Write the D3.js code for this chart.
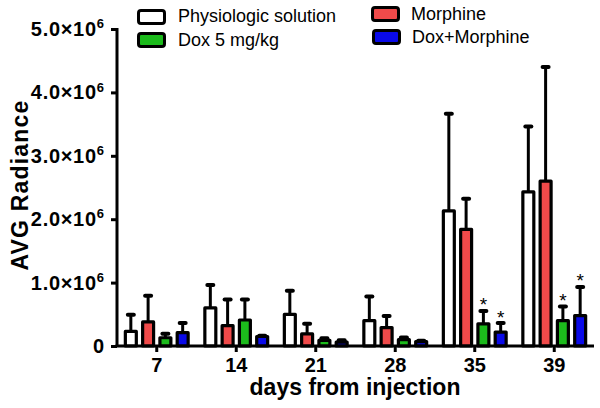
<!DOCTYPE html>
<html>
<head>
<meta charset="utf-8">
<script src="https://cdn.jsdelivr.net/npm/d3@7"></script>
<style>
  body { margin: 0; background: #fff; }
  svg { display: block; font-family: "Liberation Sans", Arial, sans-serif; }
</style>
</head>
<body>
<svg id="chart" width="600" height="408"></svg>
<script>
// ---- data ----
const categories = ["7", "14", "21", "28", "35", "39"];
const seriesNames = ["Physiologic solution", "Morphine", "Dox 5 mg/kg", "Dox+Morphine"];
const seriesColors = ["#ffffff", "#f04a4a", "#1cbb1c", "#0a0ae8"];
const physiologicMean = [0.23e6, 0.60e6, 0.50e6, 0.40e6, 2.13e6, 2.43e6];
const physiologicErr  = [0.27e6, 0.37e6, 0.38e6, 0.39e6, 1.54e6, 1.04e6];
const morphineMean    = [0.38e6, 0.32e6, 0.19e6, 0.29e6, 1.84e6, 2.60e6];
const morphineErr     = [0.42e6, 0.42e6, 0.17e6, 0.19e6, 0.49e6, 1.81e6];
const doxMean         = [0.13e6, 0.41e6, 0.09e6, 0.10e6, 0.35e6, 0.40e6];
const doxErr          = [0.07e6, 0.33e6, 0.04e6, 0.04e6, 0.21e6, 0.23e6];
const doxMorMean      = [0.21e6, 0.15e6, 0.06e6, 0.07e6, 0.22e6, 0.48e6];
const doxMorErr       = [0.16e6, 0.02e6, 0.04e6, 0.02e6, 0.15e6, 0.46e6];
// significance markers: [category, series]
const significant = [["35", "Dox 5 mg/kg"], ["35", "Dox+Morphine"], ["39", "Dox 5 mg/kg"], ["39", "Dox+Morphine"]];
const yTickValues = [0, 1e6, 2e6, 3e6, 4e6, 5e6];
const yTickMantissa = ["0", "1.0", "2.0", "3.0", "4.0", "5.0"];

const means = [physiologicMean, morphineMean, doxMean, doxMorMean];
const errs  = [physiologicErr, morphineErr, doxErr, doxMorErr];

const svg = d3.select("#chart");
const plotLeft = 117, plotRight = 594, plotTop = 29, plotBottom = 346;

const x = d3.scaleBand().domain(categories).range([plotLeft, plotRight]).padding(0);
const groupW = 66;
const x1 = d3.scaleBand().domain(seriesNames).range([-groupW / 2, groupW / 2]).paddingInner(0.18).paddingOuter(0);
const y = d3.scaleLinear().domain([0, 5e6]).range([plotBottom, plotTop]);

const rows = [];
seriesNames.forEach((s, si) => {
  categories.forEach((c, ci) => {
    rows.push({ s, si, c, v: means[si][ci], e: errs[si][ci] });
  });
});

const sw = 3.2;
const cx = d => x(d.c) + x.bandwidth() / 2 + x1(d.s) + x1.bandwidth() / 2;
const g = svg.append("g");

// error bars
const eb = g.selectAll(".err").data(rows).join("g").attr("class", "err");
eb.append("line")
  .attr("x1", cx).attr("x2", cx)
  .attr("y1", d => y(d.v))
  .attr("y2", d => y(d.v + d.e))
  .attr("stroke", "#000").attr("stroke-width", 3);
eb.append("line")
  .attr("x1", d => cx(d) - 3)
  .attr("x2", d => cx(d) + 3)
  .attr("y1", d => y(d.v + d.e) + 0.5)
  .attr("y2", d => y(d.v + d.e) + 0.5)
  .attr("stroke", "#000").attr("stroke-width", 4).attr("stroke-linecap", "round");

// bars
g.selectAll(".bar").data(rows).join("rect").attr("class", "bar")
  .attr("x", d => x(d.c) + x.bandwidth() / 2 + x1(d.s) + sw / 2)
  .attr("width", x1.bandwidth() - sw)
  .attr("y", d => y(d.v))
  .attr("height", d => Math.max(0, y(0) - y(d.v)))
  .attr("fill", d => seriesColors[d.si])
  .attr("stroke", "#000").attr("stroke-width", sw).attr("stroke-linejoin", "round");

// asterisks
g.selectAll(".star").data(significant).join("text").attr("class", "star")
  .attr("x", d => x(d[0]) + x.bandwidth() / 2 + x1(d[1]) + x1.bandwidth() / 2)
  .attr("y", d => {
    const si = seriesNames.indexOf(d[1]), ci = categories.indexOf(d[0]);
    return y(means[si][ci] + errs[si][ci]) + 1;
  })
  .attr("text-anchor", "middle").attr("font-size", 19).text("*");

// x axis
const xAxis = svg.append("g").attr("transform", `translate(0,${plotBottom})`)
  .call(d3.axisBottom(x).tickSize(6).tickSizeOuter(0).tickPadding(6));
xAxis.select(".domain").attr("stroke-width", 3).attr("d", `M${plotLeft - 1.5},0H${plotRight}`);
xAxis.selectAll(".tick line").attr("stroke-width", 3);
xAxis.selectAll(".tick text").attr("font-size", 20).attr("font-weight", "bold").attr("fill", "#000")
  .attr("font-family", "Liberation Sans, Arial, sans-serif");

// y axis
const yAxis = svg.append("g").attr("transform", `translate(${plotLeft},0)`)
  .call(d3.axisLeft(y).tickValues(yTickValues).tickSize(6).tickSizeOuter(0).tickPadding(7).tickFormat(() => ""));
yAxis.select(".domain").attr("stroke-width", 3).attr("d", `M0,${plotTop - 1}V${plotBottom}`);
yAxis.selectAll(".tick line").attr("stroke-width", 3);
yAxis.selectAll(".tick text").each(function (d) {
  const t = d3.select(this)
    .attr("font-size", 20).attr("font-weight", "bold").attr("fill", "#000")
    .attr("font-family", "Liberation Sans, Arial, sans-serif");
  const idx = yTickValues.indexOf(d);
  if (d === 0) { t.text(yTickMantissa[idx]); return; }
  t.append("tspan").attr("letter-spacing", 0.7).text(yTickMantissa[idx] + "\u00d710");
  t.append("tspan").attr("font-size", 13).attr("dy", "-0.6em").text("6");
});

// axis titles
svg.append("text").attr("x", 355).attr("y", 395).attr("text-anchor", "middle")
  .attr("font-size", 23).attr("font-weight", "bold").text("days from injection");
svg.append("text").attr("transform", "translate(28,185) rotate(-90)").attr("text-anchor", "middle")
  .attr("font-size", 23).attr("font-weight", "bold").attr("letter-spacing", 1.2).text("AVG Radiance");

// legend
const legendItems = [
  { name: "Physiologic solution", color: seriesColors[0], sx: 137, sy: 9, tx: 178, ty: 22 },
  { name: "Dox 5 mg/kg", color: seriesColors[2], sx: 137, sy: 32, tx: 178, ty: 46 },
  { name: "Morphine", color: seriesColors[1], sx: 371, sy: 6, tx: 411, ty: 20 },
  { name: "Dox+Morphine", color: seriesColors[3], sx: 372, sy: 29, tx: 412, ty: 43 }
];
const lg = svg.append("g").selectAll("g").data(legendItems).join("g");
lg.append("rect")
  .attr("x", d => d.sx + 1.5).attr("y", d => d.sy + 1.5)
  .attr("width", 26).attr("height", 13).attr("rx", 2.5)
  .attr("fill", d => d.color).attr("stroke", "#000").attr("stroke-width", 3);
lg.append("text").attr("x", d => d.tx).attr("y", d => d.ty)
  .attr("font-size", 18).text(d => d.name);
</script>
</body>
</html>
